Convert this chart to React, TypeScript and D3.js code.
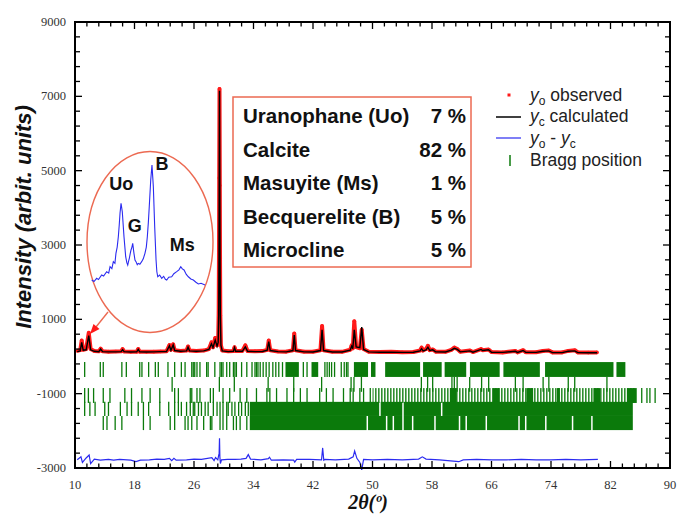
import React from "react";
import * as d3 from "d3";

const W = 677;
const H = 517;

// axis ticks
const xTickVals = [10, 18, 26, 34, 42, 50, 58, 66, 74, 82, 90];
const yTickVals = [-3000, -1000, 1000, 3000, 5000, 7000, 9000];

// profile (2theta, observed, calculated)
const prof2T = [10.3, 10.7, 10.9, 11.1, 11.5, 11.85, 12.1, 12.6, 13.2, 13.45, 13.7, 14.5, 15.5, 16.2, 16.4, 16.6, 17.5, 18.3, 18.5, 18.7,
  19.6, 20.6, 21.5, 22.3, 22.7, 22.9, 23.2, 23.4, 24.2, 25.0, 25.2, 25.4, 26.3, 27.3, 28.0, 28.35, 28.55, 28.85, 29.1, 29.25,
  29.32, 29.36, 29.39, 29.43, 29.47, 29.5, 29.54, 29.62, 29.8, 30.6, 31.3, 31.45, 31.6, 32.5, 32.9, 33.2, 34.2, 35.2, 35.85, 36.05,
  36.25, 37.3, 38.4, 39.3, 39.48, 39.65, 40.8, 42.0, 43.0, 43.22, 43.42, 44.6, 45.9, 47.0, 47.2, 47.35, 47.55, 47.8, 48.3, 48.55,
  48.8, 49.5, 51.0, 52.5, 54.0, 55.5, 56.4, 56.6, 56.8, 57.2, 57.45, 57.7, 58.1, 58.5, 59.8, 60.6, 61.0, 61.4, 61.8, 63.1,
  63.5, 64.6, 64.8, 65.6, 66.0, 67.5, 69.2, 69.5, 70.25, 70.6, 72.0, 72.9, 73.7, 74.2, 75.5, 76.3, 77.2, 77.6, 79.0, 80.2];
const profObs = [150, 170, 430, 180, 200, 640, 200, 150, 140, 210, 140, 130, 135, 140, 200, 135, 125, 130, 200, 130,
  125, 130, 135, 140, 310, 180, 330, 170, 150, 160, 270, 160, 150, 160, 200, 380, 250, 500, 300, 400,
  1200, 2800, 4800, 7200, 4600, 2600, 1100, 300, 160, 140, 150, 250, 150, 150, 300, 150, 140, 145, 180, 430,
  170, 135, 130, 170, 620, 170, 130, 130, 170, 820, 170, 130, 125, 180, 300, 220, 950, 250, 220, 720,
  200, 130, 120, 125, 115, 120, 160, 240, 160, 200, 290, 170, 190, 130, 125, 180, 240, 200, 130, 160,
  120, 200, 170, 190, 120, 110, 150, 110, 170, 115, 115, 150, 160, 110, 110, 150, 170, 110, 105, 110];
const profCalc = [130, 150, 380, 170, 180, 560, 180, 140, 130, 200, 130, 125, 125, 130, 185, 130, 120, 125, 190, 125,
  120, 125, 130, 135, 290, 170, 310, 160, 140, 150, 250, 150, 140, 150, 190, 340, 240, 440, 280, 380,
  1100, 2700, 4700, 7150, 4700, 2700, 1100, 300, 150, 130, 140, 240, 140, 140, 260, 140, 130, 135, 170, 400,
  160, 130, 125, 160, 580, 160, 125, 120, 160, 720, 160, 120, 120, 170, 280, 210, 720, 260, 240, 790,
  190, 125, 115, 115, 110, 115, 150, 210, 150, 180, 250, 160, 180, 125, 120, 170, 220, 190, 125, 150,
  115, 190, 160, 180, 115, 110, 140, 110, 160, 110, 110, 140, 150, 105, 105, 140, 150, 105, 100, 100];

// difference curve
const diff2T = [10.3, 10.8, 11.0, 11.5, 11.9, 12.1, 12.6, 13.4, 14.5, 15.2, 16.0, 17.5, 18.2, 18.8, 20.0, 21.0, 22.0, 22.7, 23.0, 23.3,
  23.6, 25.0, 26.0, 27.0, 28.4, 28.7, 28.9, 29.2, 29.38, 29.43, 29.48, 29.55, 29.7, 30.5, 31.5, 32.3, 33.0, 33.3, 33.6, 35.0,
  36.0, 36.15, 36.4, 38.0, 39.4, 39.55, 39.8, 41.5, 43.15, 43.3, 43.45, 43.6, 45.0, 46.8, 47.4, 47.6, 47.9, 48.3, 48.55, 48.8,
  50.0, 52.0, 54.0, 56.2, 56.7, 57.2, 59.0, 61.6, 62.2, 64.0, 66.0, 68.0, 70.0, 72.0, 74.0, 76.0, 78.0, 80.3];
const diffVal = [-2780, -2700, -2850, -2730, -2650, -2880, -2760, -2790, -2770, -2790, -2770, -2790, -2830, -2790, -2780, -2760, -2770, -2740, -2800, -2740,
  -2790, -2780, -2760, -2770, -2720, -2800, -2720, -2780, -2600, -2200, -2700, -2880, -2780, -2770, -2770, -2760, -2740, -2640, -2760, -2780,
  -2750, -2710, -2790, -2780, -2790, -2840, -2770, -2770, -2780, -2460, -2790, -2770, -2780, -2760, -2700, -2540, -2740, -2850, -3050, -2770,
  -2780, -2770, -2780, -2760, -2700, -2760, -2780, -2830, -2780, -2770, -2780, -2780, -2770, -2780, -2780, -2770, -2780, -2770];

// Bragg rows: tick positions and dense bands (2theta)
const bragg1Ticks = [11.3, 13.4, 13.8, 16.3, 16.9, 18.7, 19.0, 19.9, 20.8, 21.2, 22.5, 23.4, 24.3, 24.8, 25.7, 25.9, 26.1, 26.4, 26.8, 27.7,
  27.9, 28.8, 29.5, 29.7, 29.9, 30.4, 30.8, 31.3, 31.5, 31.7, 32.4, 33.1, 33.8, 34.2, 34.4, 34.6, 34.9, 35.3, 35.7, 36.1,
  36.6, 37.0, 37.4, 37.9, 40.7, 41.2, 43.6, 43.9, 44.2, 44.5, 44.9, 45.8, 46.2, 46.5, 46.7];
const bragg1Bands = [[38.3, 40.1], [41.8, 42.7], [47.5, 49.4], [49.8, 50.4], [51.7, 56.4], [56.8, 59.3], [59.7, 62.6], [63.1, 67.1], [67.6, 72.5], [73.2, 82.4], [82.8, 84.0]];
const bragg2Ticks = [23.06, 29.41, 31.42, 35.97, 39.41, 43.16, 47.12, 47.51, 48.51, 56.57, 57.41, 58.09, 60.68, 61.0, 61.38, 63.07, 64.67, 65.62, 69.21, 70.25,
  72.94, 73.71, 76.32, 77.19, 81.52];
const bragg3Ticks = [11.3, 11.8, 12.5, 13.8, 14.7, 16.7, 17.6, 19.0, 20.1, 21.4, 23.4, 23.9, 25.5, 25.7, 26.4, 26.8, 28.2, 28.6, 29.9, 30.8,
  32.2, 33.1, 34.4, 35.8, 36.2, 37.1, 38.5, 39.4, 40.3, 41.2, 42.9, 43.8, 44.7, 46.1, 47.0, 47.4, 48.3, 48.8, 49.7, 86.2, 86.9, 87.3, 88.0];
const bragg3Bands = [[60.4, 61.3], [66.2, 67.1], [70.7, 71.6], [74.8, 75.2], [79.7, 80.6], [84.2, 85.5]];
const bragg3Hatch = [[50.0, 85.5]];
const bragg4Ticks = [11.3, 12.0, 12.7, 14.0, 14.5, 16.1, 17.0, 17.6, 18.5, 19.2, 19.9, 21.4, 22.6, 23.4, 23.9, 24.3, 25.0, 25.5, 25.9, 26.1,
  26.6, 27.0, 27.5, 27.9, 28.6, 29.1, 29.5, 29.9, 30.4, 30.6, 31.1, 31.5, 32.0, 32.4, 32.9, 33.3];
const bragg4Bands = [[33.5, 50.9], [51.1, 54.0], [54.2, 59.2], [59.4, 85.0]];
const bragg5Ticks = [13.8, 14.3, 15.4, 16.3, 19.2, 20.1, 22.8, 23.4, 24.8, 25.2, 25.7, 26.4, 27.3, 28.2, 28.4, 29.5, 29.9, 30.4, 31.3, 31.7, 32.2, 33.1];
const bragg5Bands = [[33.5, 49.2], [49.4, 51.8], [52.0, 52.7], [52.9, 54.0], [54.2, 55.3], [55.5, 58.3], [58.5, 61.6], [61.8, 62.5], [62.7, 65.2], [65.4, 69.6],
  [69.8, 70.5], [70.7, 73.2], [73.4, 76.8], [77.0, 79.4], [79.6, 85.0]];
// vertical ranges of each Bragg row (intensity units)
const braggRowTop = [-150, -550, -850, -1220, -1600];
const braggRowBottom = [-550, -950, -1250, -1600, -1980];

// quantitative phase analysis
const phaseNames = ["Uranophane (Uo)", "Calcite", "Masuyite (Ms)", "Becquerelite (B)", "Microcline"];
const phasePct = ["7 %", "82 %", "1 %", "5 %", "5 %"];

// inset (zoomed region, arbitrary units)
const insetX = [0, 2, 4.4, 6, 8.8, 10.5, 13.2, 15, 16.2, 17.8, 19.1, 20.5, 21.4, 22.5, 23.5, 24.3, 25.0, 25.9, 27.0, 28.5,
  30.0, 31.0, 31.8, 32.5, 33.2, 34.0, 34.7, 35.5, 36.2, 37.3, 38.2, 39.1, 40.2, 41.1, 42.5, 44.1, 45.5, 47.0, 48.2, 49.1,
  50.0, 50.8, 52.1, 53.2, 54.4, 55.6, 56.8, 57.5, 58.3, 60.0, 61.8, 63.5, 65.0, 66.2, 68.0, 70.6, 72.5, 75.0, 77.0, 78.6,
  80.0, 81.5, 83.5, 85.3, 87.5, 89.7, 92.0, 94.1, 96.5, 100];
const insetY = [7.7, 6.5, 9.0, 8.0, 11.5, 10.8, 14.1, 13.0, 17.9, 16.5, 21.8, 20.5, 28.2, 33.0, 41.0, 50.0, 59.0, 66.7, 60.2, 41.0,
  25.6, 21.0, 19.2, 22.0, 24.4, 28.0, 30.8, 33.0, 35.9, 28.2, 23.0, 21.8, 19.5, 20.5, 19.8, 21.8, 24.0, 28.2, 33.0, 41.0,
  52.0, 64.1, 84.6, 96.2, 79.5, 48.7, 23.1, 14.0, 10.2, 11.5, 9.0, 10.5, 8.2, 7.7, 9.8, 10.2, 12.5, 14.1, 15.5, 17.9,
  16.2, 15.4, 12.0, 10.2, 8.5, 7.7, 6.0, 4.6, 5.2, 3.8];
const insetLabels = ["Uo", "G", "B", "Ms"];
const insetLabelX = [26, 38, 62, 80];
const insetLabelY = [77, 45, 92, 30];

const GREEN = "#0b7a0b";
const RED = "#ff1a1a";
const BLUE = "#2b2bf0";
const SALMON = "#ec6a52";

export default function App() {
  const L = 75, R = 670, T = 22, B = 468;
  const x = d3.scaleLinear().domain([10, 90]).range([L, R]);
  const y = d3.scaleLinear().domain([-3000, 9000]).range([B, T]);
  const ix = d3.scaleLinear().domain([0, 100]).range([91.7, 205]);
  const iy = d3.scaleLinear().domain([0, 100]).range([290, 160]);

  const idx = d3.range(prof2T.length);
  const obsLine = d3.line<number>().x(i => x(prof2T[i])).y(i => y(profObs[i]));
  const calcLine = d3.line<number>().x(i => x(prof2T[i])).y(i => y(profCalc[i]));
  const diffLine = d3.line<number>().x(i => x(diff2T[i])).y(i => y(diffVal[i]));
  const insetLine = d3.line<number>().x(i => ix(insetX[i])).y(i => iy(insetY[i]));

  const rows = [
    { ticks: bragg1Ticks, bands: bragg1Bands, hatch: [] as number[][] },
    { ticks: bragg2Ticks, bands: [] as number[][], hatch: [] as number[][] },
    { ticks: bragg3Ticks, bands: bragg3Bands, hatch: bragg3Hatch },
    { ticks: bragg4Ticks, bands: bragg4Bands, hatch: [] as number[][] },
    { ticks: bragg5Ticks, bands: bragg5Bands, hatch: [] as number[][] },
  ];

  const xMinor = d3.range(10, 90.001, 1.6);
  const yMinor = d3.range(-3000, 9000.1, 400);

  const sans = "'Liberation Sans', Arial, Helvetica, sans-serif";
  const serif = "'Liberation Serif', 'Times New Roman', serif";

  return (
    <svg width={W} height={H} style={{ position: "absolute", left: 0, top: 0, background: "#fff" }}>
      <defs>
        <pattern id="hatch" width="3" height="10" patternUnits="userSpaceOnUse">
          <rect x="0" y="0" width="1.6" height="10" fill={GREEN} />
        </pattern>
        <clipPath id="plotclip"><rect x={L} y={T} width={R - L} height={B - T + 3} /></clipPath>
      </defs>

      {/* Bragg rows */}
      <g>
        {rows.map((r, k) => (
          <g key={k}>
            {r.hatch.map((b, j) => (
              <rect key={"h" + j} x={x(b[0])} y={y(braggRowTop[k])} width={x(b[1]) - x(b[0])}
                height={y(braggRowBottom[k]) - y(braggRowTop[k])} fill="url(#hatch)" opacity={0.85} />
            ))}
            {r.bands.map((b, j) => (
              <rect key={"b" + j} x={x(b[0])} y={y(braggRowTop[k])} width={x(b[1]) - x(b[0])}
                height={y(braggRowBottom[k]) - y(braggRowTop[k])} fill={GREEN} />
            ))}
            {r.ticks.map((t, j) => (
              <line key={"t" + j} x1={x(t)} x2={x(t)} y1={y(braggRowTop[k])} y2={y(braggRowBottom[k])}
                stroke={GREEN} strokeWidth={1.3} />
            ))}
          </g>
        ))}
      </g>

      {/* difference */}
      <g clipPath="url(#plotclip)">
        <path d={diffLine(d3.range(diff2T.length)) || ""} fill="none" stroke={BLUE} strokeWidth={1.2} />
      </g>

      {/* observed & calculated */}
      <path d={obsLine(idx) || ""} fill="none" stroke={RED} strokeWidth={4} strokeLinejoin="round" />
      {idx.map(i => (
        <circle key={i} cx={x(prof2T[i])} cy={y(profObs[i])} r={1.8} fill={RED} />
      ))}
      <path d={calcLine(idx) || ""} fill="none" stroke="#000" strokeWidth={1.4} />

      {/* inset */}
      <ellipse cx={150} cy={242} rx={63} ry={90.5} fill="none" stroke={SALMON} strokeWidth={1.4} />
      <path d={insetLine(d3.range(insetX.length)) || ""} fill="none" stroke={BLUE} strokeWidth={1.1} />
      {insetLabels.map((s, k) => (
        <text key={s} x={ix(insetLabelX[k])} y={iy(insetLabelY[k])} fontFamily={sans} fontWeight="bold"
          fontSize={18} textAnchor="middle" fill="#111">{s}</text>
      ))}
      <line x1={108} y1={312} x2={96} y2={327} stroke={SALMON} strokeWidth={1.4} />
      <path d="M90,334 L93.5,324 L99.5,329 Z" fill={RED} />

      {/* phase table */}
      <rect x={233} y={97} width={238} height={170} fill="#fff" stroke={SALMON} strokeWidth={1.5} />
      {phaseNames.map((n, k) => (
        <g key={n}>
          <text x={243} y={123 + k * 33.5} fontFamily={sans} fontWeight="bold" fontSize={20.5} fill="#111">{n}</text>
          <text x={466} y={123 + k * 33.5} fontFamily={sans} fontWeight="bold" fontSize={20.5} fill="#111" textAnchor="end">{phasePct[k]}</text>
        </g>
      ))}

      {/* legend */}
      <g fontFamily={sans} fontSize={17.5} fill="#222">
        <rect x={507.5} y={93.5} width={3} height={3} fill={RED} />
        <text x={530} y={101}><tspan fontStyle="italic">y</tspan><tspan fontSize={12} dy={4}>o</tspan><tspan dy={-4}> observed</tspan></text>
        <line x1={496} x2={521} y1={117} y2={117} stroke="#111" strokeWidth={1.6} />
        <text x={530} y={122}><tspan fontStyle="italic">y</tspan><tspan fontSize={12} dy={4}>c</tspan><tspan dy={-4}> calculated</tspan></text>
        <line x1={496} x2={521} y1={138} y2={138} stroke={BLUE} strokeWidth={1.2} />
        <text x={530} y={144}><tspan fontStyle="italic">y</tspan><tspan fontSize={12} dy={4}>o</tspan><tspan dy={-4}> - </tspan><tspan fontStyle="italic">y</tspan><tspan fontSize={12} dy={4}>c</tspan></text>
        <line x1={510} x2={510} y1={155} y2={166} stroke={GREEN} strokeWidth={1.5} />
        <text x={530} y={166}>Bragg position</text>
      </g>

      {/* axes frame and ticks */}
      <g stroke="#000">
        {xMinor.map((t, k) => {
          const major = Math.abs(((t - 10) / 8) - Math.round((t - 10) / 8)) < 1e-6;
          const len = major ? 7 : 4.5;
          return (
            <g key={"xm" + k}>
              <line x1={x(t)} x2={x(t)} y1={B} y2={B - len} strokeWidth={1.3} />
              <line x1={x(t)} x2={x(t)} y1={T} y2={T + len} strokeWidth={1.3} />
            </g>
          );
        })}
        {yMinor.map((t, k) => {
          const major = Math.abs(((t + 3000) / 2000) - Math.round((t + 3000) / 2000)) < 1e-6;
          const len = major ? 7 : 5;
          return (
            <g key={"ym" + k}>
              <line x1={L} x2={L + len} y1={y(t)} y2={y(t)} strokeWidth={1.3} />
              <line x1={R} x2={R - len} y1={y(t)} y2={y(t)} strokeWidth={1.3} />
            </g>
          );
        })}
        <rect x={L} y={T} width={R - L} height={B - T} fill="none" strokeWidth={2} />
      </g>

      {/* tick labels */}
      <g fontFamily={serif} fontSize={12.5} fill="#333">
        {xTickVals.map(t => (
          <text key={t} x={x(t)} y={489} textAnchor="middle">{t}</text>
        ))}
        {yTickVals.map(t => (
          <text key={t} x={66} y={y(t) + 4} textAnchor="end">{t}</text>
        ))}
      </g>

      {/* axis titles */}
      <text x={368} y={509} textAnchor="middle" fontFamily={serif} fontWeight="bold" fontStyle="italic" fontSize={20} fill="#111">
        2θ(º)
      </text>
      <text transform={`translate(31,217) rotate(-90)`} textAnchor="middle" fontFamily={sans} fontWeight="bold"
        fontStyle="italic" fontSize={22} fill="#111">Intensity (arbit. units)</text>
    </svg>
  );
}
